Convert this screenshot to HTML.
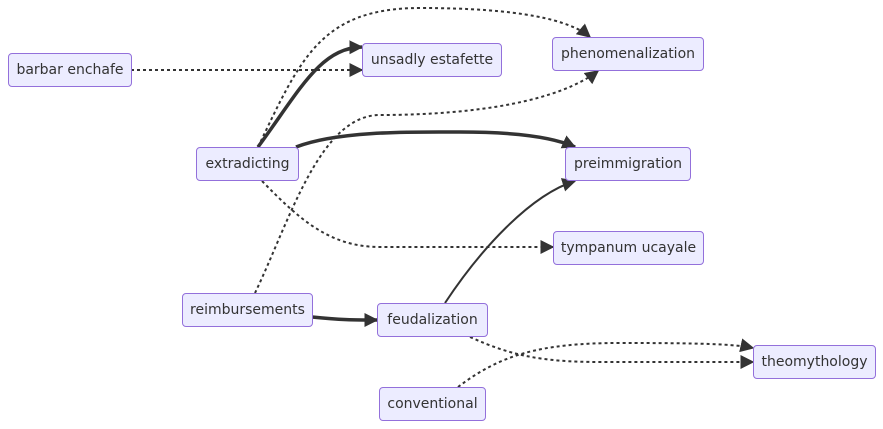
<!DOCTYPE html>
<html><head><style>
body{margin:0;background:#fff;}
.n{position:absolute;box-sizing:border-box;background:#ececff;border:1px solid #9370db;border-radius:4px;font:14px "DejaVu Sans","Liberation Sans",sans-serif;color:#333;display:flex;align-items:center;justify-content:center;height:34px;white-space:nowrap;}
</style></head><body>
<div style="position:relative;width:883px;height:429px;overflow:hidden">
<svg width="883" height="429" style="position:absolute;left:0;top:0">
<defs><marker id="b" viewBox="0 0 10 10" refX="9" refY="5" markerWidth="14" markerHeight="14" markerUnits="userSpaceOnUse" orient="auto"><path d="M0,0L10,5L0,10z" fill="#333"/></marker></defs>
<g fill="none" stroke="#333">
<path d="M131,70L362,70" stroke-width="2" stroke-dasharray="3,3" marker-end="url(#b)"/>
<path d="M258,147C300,90 320,48 362,47" stroke-width="3.5" marker-end="url(#b)"/>
<path d="M258,147C300,60 320,8 420,8C520,8 570,20 590,37" stroke-width="2" stroke-dasharray="3,3" marker-end="url(#b)"/>
<path d="M296,147C340,130 420,132 460,132C520,132 555,138 575,147" stroke-width="3.5" marker-end="url(#b)"/>
<path d="M262,181C300,220 330,247 380,247L553,247" stroke-width="2" stroke-dasharray="3,3" marker-end="url(#b)"/>
<path d="M255,293C290,220 320,115 380,115C480,115 560,100 598,71" stroke-width="2" stroke-dasharray="3,3" marker-end="url(#b)"/>
<path d="M312,317C340,320 355,320 377,320" stroke-width="3.5" marker-end="url(#b)"/>
<path d="M445,303C480,250 530,195 575,181" stroke-width="2" marker-end="url(#b)"/>
<path d="M470,337C510,355 540,362 600,362L753,362" stroke-width="2" stroke-dasharray="3,3" marker-end="url(#b)"/>
<path d="M458,387C500,355 540,343 620,343C700,343 735,344 753,348" stroke-width="2" stroke-dasharray="3,3" marker-end="url(#b)"/>
</g></svg>
<div class="n" style="left:8px;top:53px;width:124px">barbar enchafe</div>
<div class="n" style="left:362px;top:43px;width:140px">unsadly estafette</div>
<div class="n" style="left:552px;top:37px;width:152px">phenomenalization</div>
<div class="n" style="left:196px;top:147px;width:103px">extradicting</div>
<div class="n" style="left:565px;top:147px;width:126px">preimmigration</div>
<div class="n" style="left:553px;top:231px;width:151px">tympanum ucayale</div>
<div class="n" style="left:182px;top:293px;width:131px">reimbursements</div>
<div class="n" style="left:377px;top:303px;width:111px">feudalization</div>
<div class="n" style="left:753px;top:345px;width:123px">theomythology</div>
<div class="n" style="left:379px;top:387px;width:107px">conventional</div>
</div>
</body></html>
